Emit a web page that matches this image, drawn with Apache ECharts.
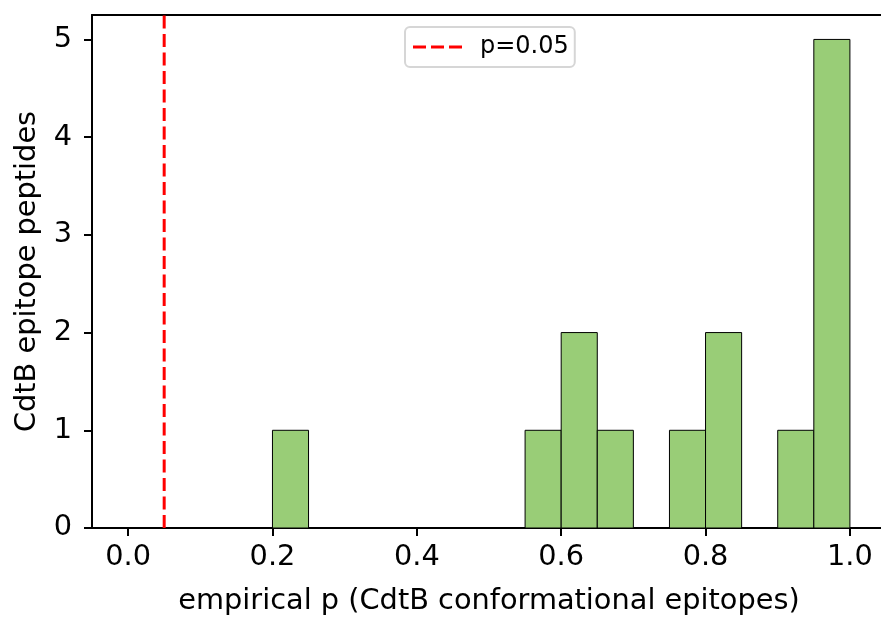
<!DOCTYPE html>
<html><head><meta charset="utf-8">
<script src="https://cdn.jsdelivr.net/npm/echarts@6/dist/echarts.min.js"></script>
<style>html,body{margin:0;padding:0;background:#fff}#c{width:881px;height:619px}</style>
</head><body><div id="c"></div>
<script>
const binStarts = [0.20, 0.55, 0.60, 0.65, 0.75, 0.80, 0.90, 0.95];
const binWidth = 0.05;
const counts = [1, 1, 2, 1, 1, 2, 1, 5];
const thresholdP = 0.05;
const xTicks = [0.0, 0.2, 0.4, 0.6, 0.8, 1.0];
const yTicks = [0, 1, 2, 3, 4, 5];

const font = 'DejaVu Sans';
const chart = echarts.init(document.getElementById('c'), null, {renderer: 'canvas'});
const barData = binStarts.map((s, i) => [s, s + binWidth, counts[i]]);
chart.setOption({
  animation: false,
  grid: {left: 92, top: 15, width: 794, height: 513, containLabel: false, outerBoundsMode: 'none'},
  legend: {
    data: [{name: 'p=0.05', icon: 'path://M0,0h13v3h-13z M18,0h13v3h-13z M36,0h13v3h-13z'}],
    left: 405, top: 27, itemWidth: 49, itemHeight: 3,
    padding: [7, 6, 7, 8], borderColor: '#d6d6d6', borderWidth: 2, borderRadius: 5,
    backgroundColor: '#fff',
    textStyle: {fontFamily: font, fontSize: 24, lineHeight: 26, color: '#000', padding: [0, 0, 0, 13]}
  },
  xAxis: [{
    type: 'value', min: -0.05, max: 1.05, interval: 0.2,
    axisLine: {onZero: false, lineStyle: {color: '#000', width: 2}},
    axisTick: {show: true, length: 8, lineStyle: {color: '#000', width: 2}, customValues: xTicks},
    axisLabel: {fontFamily: font, fontSize: 28.8, color: '#000', margin: 15, customValues: xTicks,
      formatter: v => v.toFixed(1)},
    splitLine: {show: false},
    name: 'empirical p (CdtB conformational epitopes)', nameLocation: 'middle', nameGap: 59,
    nameTextStyle: {fontFamily: font, fontSize: 28.8, color: '#000'}
  }, {
    type: 'value', position: 'top', min: -0.05, max: 1.05,
    axisLine: {show: true, onZero: false, lineStyle: {color: '#000', width: 2}},
    axisTick: {show: false}, axisLabel: {show: false}, splitLine: {show: false}
  }],
  yAxis: {
    type: 'value', min: 0, max: 5.25, interval: 1,
    axisLine: {show: true, onZero: false, lineStyle: {color: '#000', width: 2}},
    axisTick: {show: true, length: 8, lineStyle: {color: '#000', width: 2}, customValues: yTicks},
    axisLabel: {fontFamily: font, fontSize: 28.8, color: '#000', margin: 20, customValues: yTicks},
    splitLine: {show: false},
    name: 'CdtB epitope peptides', nameLocation: 'middle', nameGap: 50,
    nameTextStyle: {fontFamily: font, fontSize: 28.8, color: '#000'}
  },
  series: [
    {
      type: 'custom', name: 'hist', data: barData, encode: {x: [0, 1], y: 2},
      renderItem: function (params, api) {
        const p0 = api.coord([api.value(0), 0]);
        const p1 = api.coord([api.value(1), api.value(2)]);
        return {type: 'rect', shape: {x: p0[0], y: p1[1], width: p1[0] - p0[0], height: p0[1] - p1[1]},
          style: {fill: '#99cd77', stroke: '#000', lineWidth: 1}};
      }
    },
    {
      type: 'line', name: 'p=0.05', data: [[thresholdP, 0], [thresholdP, 5.25]], symbol: 'none',
      lineStyle: {color: '#ff0000', width: 3, type: [13, 5.5]}, itemStyle: {color: '#ff0000'}, z: 5
    }
  ]
});
</script></body></html>
